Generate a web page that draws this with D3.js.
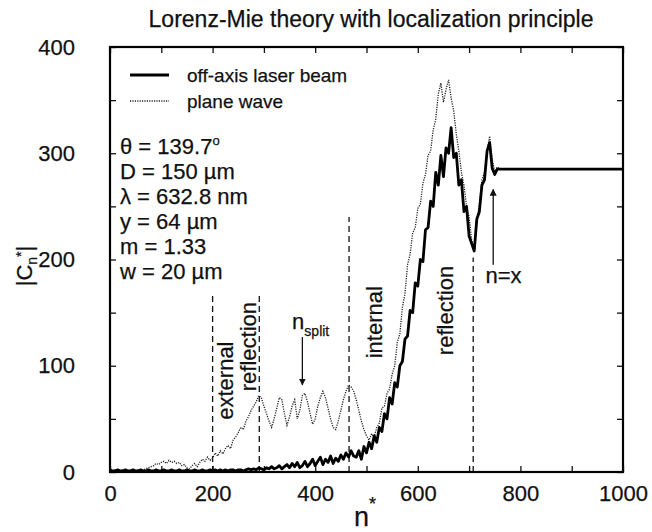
<!DOCTYPE html>
<html>
<head>
<meta charset="utf-8">
<script src="https://cdn.jsdelivr.net/npm/d3@7"></script>
<style>
  body { margin: 0; background: #fff; }
  text { font-family: "Liberation Sans", Arial, Helvetica, sans-serif; fill: #111; stroke: #111; stroke-width: 0.25; }
</style>
</head>
<body>
<div id="vis"></div>
<script>
// chart data
const N_GRID = [
  0, 5, 10, 15, 20, 25, 30, 35, 40, 45, 50, 55, 60, 65, 70, 75, 80, 85, 90, 95,
  100, 105, 110, 115, 120, 125, 130, 135, 140, 145, 150, 155, 160, 165, 170, 175, 180, 185, 190, 195,
  200, 205, 210, 215, 220, 225, 230, 235, 240, 245, 250, 255, 260, 265, 270, 275, 280, 285, 290, 295,
  300, 305, 310, 315, 320, 325, 330, 335, 340, 345, 350, 355, 360, 365, 370, 375, 380, 385, 390, 395,
  400, 405, 410, 415, 420, 425, 430, 435, 440, 445, 450, 455, 460, 465, 470, 475, 480, 485, 490, 495,
  500, 505, 510, 515, 520, 525, 530, 535, 540, 545, 550, 555, 560, 565, 570, 575, 580, 585, 590, 595,
  600, 605, 610, 615, 620, 625, 630, 635, 640, 645, 650, 655, 660, 665, 670, 675, 680, 685, 690, 695,
  700, 705, 710, 715, 720, 725, 730, 735, 740, 745, 750, 755, 760, 1000
];

const PLANE_WAVE = [
  1, 1, 2, 1, 1, 2, 1, 1, 2, 1, 1, 2, 1, 2, 3, 4, 5, 6, 8, 7,
  9, 10, 8, 11, 9, 10, 8, 9, 6, 7, 4, 3, 6, 8, 5, 9, 12, 10, 14, 11,
  13, 18, 15, 20, 17, 22, 25, 22, 30, 33, 37, 42, 40, 48, 52, 58, 62, 66, 72, 70,
  62, 55, 48, 42, 50, 60, 70, 68, 55, 44, 52, 62, 68, 50, 58, 72, 74, 66, 55, 45,
  50, 62, 70, 76, 70, 60, 50, 42, 40, 48, 58, 68, 76, 82, 80, 76, 68, 58, 48, 40,
  34, 30, 36, 33, 42, 46, 60, 62, 74, 78, 92, 100, 122, 130, 155, 168, 195, 205, 225, 230,
  248, 252, 272, 280, 298, 302, 322, 332, 356, 366, 348, 360, 369, 352, 340, 318, 302, 282, 270, 250,
  240, 218, 210, 235, 252, 275, 282, 302, 316, 294, 283, 287, 285, 285
];

const OFF_AXIS = [
  2, 1, 1, 2, 1, 1, 2, 1, 1, 2, 1, 1, 2, 1, 1, 2, 1, 1, 2, 1,
  1, 2, 1, 1, 2, 1, 1, 2, 1, 1, 2, 1, 1, 2, 1, 1, 2, 1, 1, 2,
  1, 2, 1, 2, 1, 2, 1, 2, 2, 1, 2, 2, 1, 2, 3, 2, 3, 2, 4, 3,
  2, 4, 3, 5, 3, 4, 6, 3, 5, 7, 4, 8, 5, 9, 4, 6, 10, 5, 8, 12,
  6, 10, 14, 7, 12, 9, 15, 8, 13, 10, 16, 12, 18, 14, 20, 15, 14, 20, 12, 24,
  18, 28, 22, 34, 28, 42, 38, 55, 50, 70, 64, 84, 80, 100, 104, 125, 128, 152, 150, 178,
  175, 200, 198, 228, 230, 255, 250, 282, 270, 298, 278, 305, 300, 324, 296, 300, 270, 275, 245, 250,
  222, 215, 208, 238, 245, 270, 275, 302, 310, 286, 280, 285, 285, 285
];

// dashed region borders
const VLINE_N = [200, 291, 466, 708];
const VLINE_TOP = [167, 167, 240, 202];

// tick values
const X_TICKS = [0, 200, 400, 600, 800, 1000];
const X_MINOR = [0, 100, 200, 300, 400, 500, 600, 700, 800, 900, 1000];
const Y_TICKS = [0, 100, 200, 300, 400];
const Y_MINOR = [0, 50, 100, 150, 200, 250, 300, 350, 400];

const LEGEND_LABELS = ["off-axis laser beam", "plane wave"];
const PARAM_LINES = ["\u03b8 = 139.7", "D = 150 \u00b5m", "\u03bb = 632.8 nm", "y = 64 \u00b5m", "m = 1.33", "w = 20 \u00b5m"];

// frame constants
const FRAME_WIDTH = 652;
const FRAME_HEIGHT = 532;
const MARGINS = {left: 110, right: 29, top: 47, bottom: 60};
const VIS_WIDTH = FRAME_WIDTH - MARGINS.left - MARGINS.right;
const VIS_HEIGHT = FRAME_HEIGHT - MARGINS.top - MARGINS.bottom;

const FRAME = d3.select("#vis")
  .append("svg")
  .attr("width", FRAME_WIDTH)
  .attr("height", FRAME_HEIGHT);

const G = FRAME.append("g")
  .attr("transform", "translate(" + MARGINS.left + "," + MARGINS.top + ")");

const X_SCALE = d3.scaleLinear().domain([0, 1000]).range([0, VIS_WIDTH]);
const Y_SCALE = d3.scaleLinear().domain([0, 400]).range([VIS_HEIGHT, 0]);

// inward ticks on all four sides
function tickAxis(axis, tx, ty) {
  const g = G.append("g")
    .attr("transform", "translate(" + tx + "," + ty + ")")
    .call(axis.tickSize(-6).tickFormat(""));
  g.select(".domain").remove();
  g.selectAll("line").attr("stroke", "#111").attr("stroke-width", 1.3);
}
tickAxis(d3.axisBottom(X_SCALE).tickValues(X_MINOR), 0, VIS_HEIGHT);
tickAxis(d3.axisTop(X_SCALE).tickValues(X_MINOR), 0, 0);
tickAxis(d3.axisLeft(Y_SCALE).tickValues(Y_MINOR), 0, 0);
tickAxis(d3.axisRight(Y_SCALE).tickValues(Y_MINOR), VIS_WIDTH, 0);

// tick labels
const XLAB = G.append("g")
  .attr("transform", "translate(0," + VIS_HEIGHT + ")")
  .call(d3.axisBottom(X_SCALE).tickValues(X_TICKS).tickSize(0).tickPadding(13).tickFormat(d3.format("d")))
  .attr("font-size", 22)
  .attr("font-family", null);
XLAB.select(".domain").remove();

const YLAB = G.append("g")
  .call(d3.axisLeft(Y_SCALE).tickValues(Y_TICKS).tickSize(0).tickPadding(35).tickFormat(d3.format("d")))
  .attr("font-size", 22)
  .attr("font-family", null);
YLAB.select(".domain").remove();

// dashed borders
G.selectAll(".vline")
  .data(VLINE_N)
  .enter()
  .append("line")
  .attr("class", "vline")
  .attr("x1", d => X_SCALE(d))
  .attr("x2", d => X_SCALE(d))
  .attr("y1", Y_SCALE(0))
  .attr("y2", (d, i) => Y_SCALE(VLINE_TOP[i]))
  .attr("stroke", "#111")
  .attr("stroke-width", 1.3)
  .attr("stroke-dasharray", "6,4");

// curves
const line = (vals) => d3.line()
  .x((d, i) => X_SCALE(N_GRID[i]))
  .y(d => Y_SCALE(d))(vals);

G.append("path")
  .attr("d", line(PLANE_WAVE))
  .attr("fill", "none")
  .attr("stroke", "#222")
  .attr("stroke-width", 1.3)
  .attr("stroke-dasharray", "1.2,1.2");

G.append("path")
  .attr("d", line(OFF_AXIS))
  .attr("fill", "none")
  .attr("stroke", "#000")
  .attr("stroke-width", 2.8)
  .attr("stroke-linejoin", "round");

// plot frame
G.append("rect")
  .attr("width", VIS_WIDTH)
  .attr("height", VIS_HEIGHT)
  .attr("fill", "none")
  .attr("stroke", "#000")
  .attr("stroke-width", 2.2);

// legend
LEGEND_LABELS.forEach((lab, i) => {
  const y = 28 + i * 26;
  G.append("line")
    .attr("x1", 20).attr("x2", 59)
    .attr("y1", y).attr("y2", y)
    .attr("stroke", i === 0 ? "#000" : "#222")
    .attr("stroke-width", i === 0 ? 2.8 : 1.3)
    .attr("stroke-dasharray", i === 0 ? null : "1.2,1.2");
  G.append("text")
    .attr("x", 77)
    .attr("y", y + 7)
    .attr("font-size", 19)
    .text(lab);
});

// parameters block
PARAM_LINES.forEach((lab, i) => {
  const t = G.append("text")
    .attr("x", 10)
    .attr("y", 107 + i * 25)
    .attr("font-size", 22)
    .text(lab);
  if (i === 0) {
    t.append("tspan").attr("dy", -9).attr("font-size", 13).text("o");
  }
});

// rotated region labels
function vText(n, v, str) {
  G.append("text")
    .attr("transform", "translate(" + X_SCALE(n) + "," + Y_SCALE(v) + ") rotate(-90)")
    .attr("text-anchor", "middle")
    .attr("font-size", 22)
    .text(str);
}
vText(240, 86, "external");
vText(285, 118, "reflection");
vText(531, 141, "internal");
vText(669, 152, "reflection");

// arrows
FRAME.append("defs").append("marker")
  .attr("id", "head")
  .attr("viewBox", "0 0 10 10")
  .attr("refX", 9).attr("refY", 5)
  .attr("markerWidth", 7).attr("markerHeight", 7)
  .attr("markerUnits", "userSpaceOnUse")
  .attr("orient", "auto")
  .append("path")
  .attr("d", "M0,0 L10,5 L0,10 Z")
  .attr("fill", "#111");

function arrow(n, v0, v1) {
  G.append("line")
    .attr("x1", X_SCALE(n)).attr("x2", X_SCALE(n))
    .attr("y1", Y_SCALE(v0)).attr("y2", Y_SCALE(v1))
    .attr("stroke", "#111")
    .attr("stroke-width", 1.3)
    .attr("marker-end", "url(#head)");
}
arrow(375, 127, 82);
arrow(747, 195, 266);

const NSPLIT = G.append("text")
  .attr("x", X_SCALE(355))
  .attr("y", Y_SCALE(135))
  .attr("font-size", 22)
  .text("n");
NSPLIT.append("tspan").attr("dy", 7).attr("font-size", 14).text("split");

G.append("text")
  .attr("x", X_SCALE(732))
  .attr("y", Y_SCALE(178))
  .attr("font-size", 22)
  .text("n=x");

// title
FRAME.append("text")
  .attr("x", 371)
  .attr("y", 27)
  .attr("text-anchor", "middle")
  .attr("font-size", 23)
  .text("Lorenz-Mie theory with localization principle");

// y axis label |C_n*|
const YTITLE = FRAME.append("text")
  .attr("transform", "translate(32,266) rotate(-90)")
  .attr("text-anchor", "middle")
  .attr("font-size", 22);
YTITLE.append("tspan").text("|C");
YTITLE.append("tspan").attr("dy", 5).attr("font-size", 14).text("n");
YTITLE.append("tspan").attr("dy", -11).attr("font-size", 14).text("*");
YTITLE.append("tspan").attr("dy", 6).text("|");

// x axis label n*
const XTITLE = FRAME.append("text")
  .attr("x", 354)
  .attr("y", 526)
  .attr("font-size", 27);
XTITLE.append("tspan").text("n");
XTITLE.append("tspan").attr("dy", -16).attr("font-size", 18).text("*");
</script>
</body>
</html>
